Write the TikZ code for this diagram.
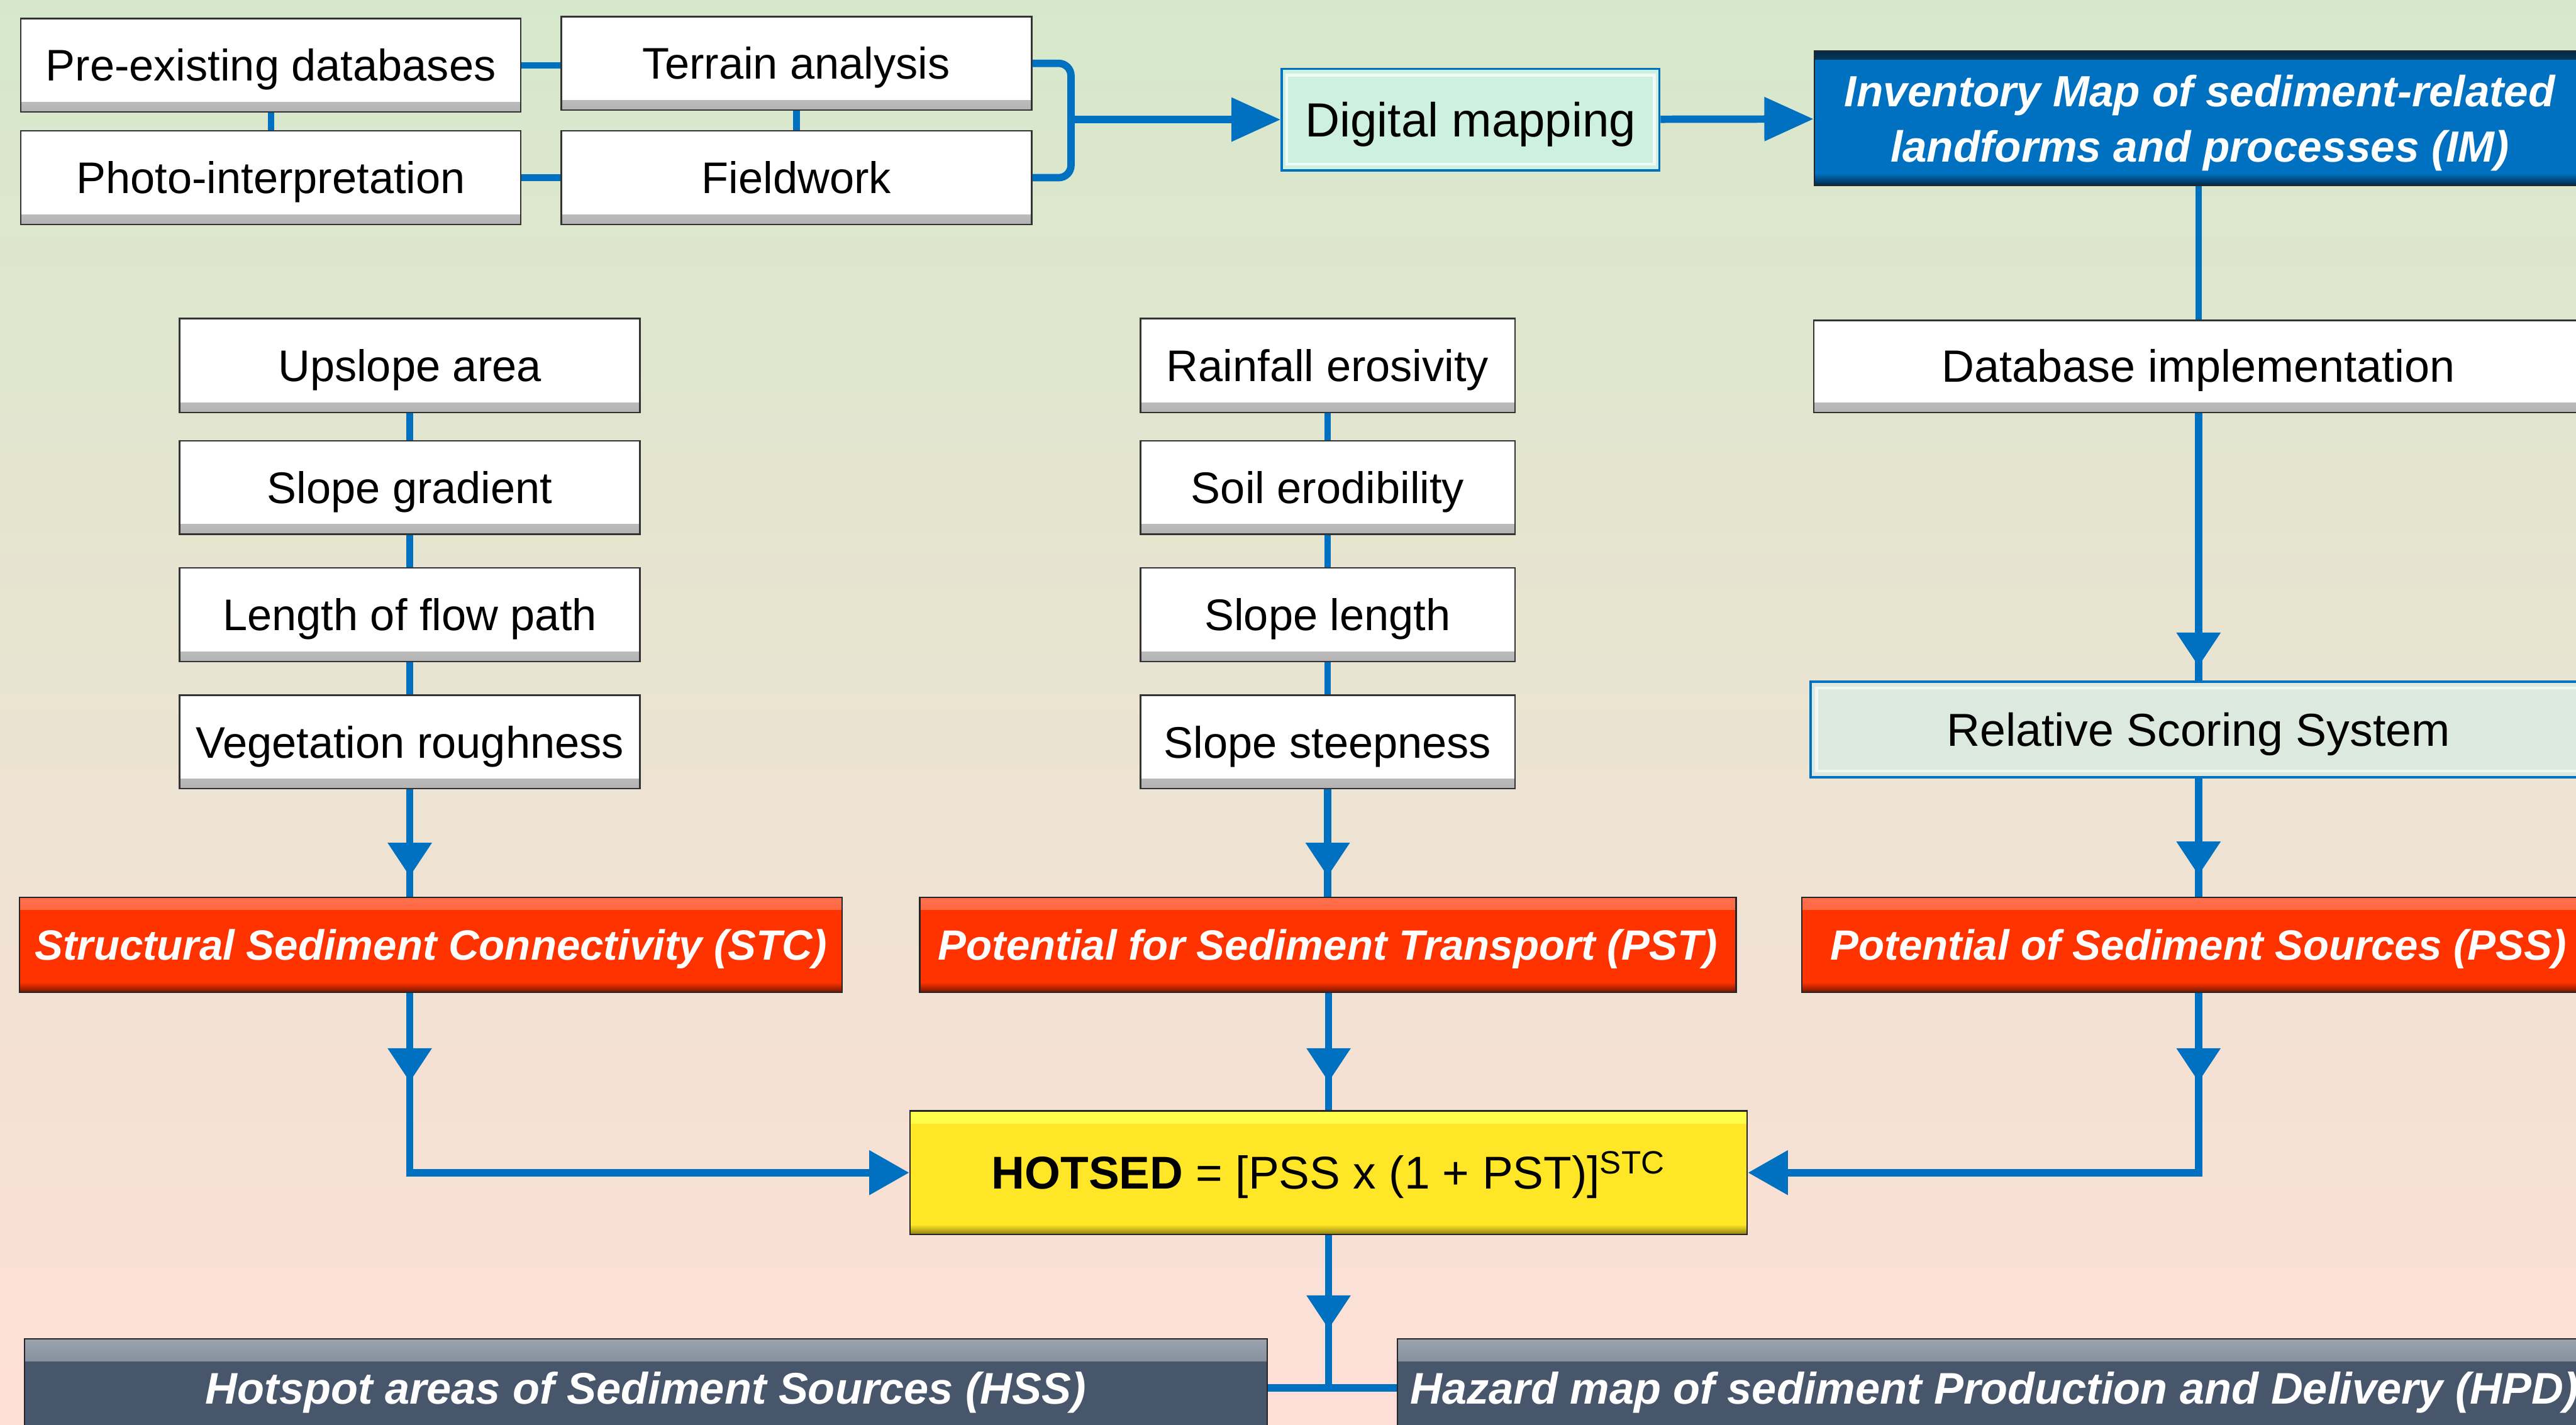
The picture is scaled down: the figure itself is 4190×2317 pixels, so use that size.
\documentclass[tikz,border=0pt]{standalone}
\usepackage{fontspec}
\setmainfont{Liberation Sans}
\usetikzlibrary{arrows.meta,calc}
\definecolor{cblue}{HTML}{0070C0}
\definecolor{cred}{HTML}{FF3300}
\definecolor{cyel}{HTML}{FFE626}
\definecolor{cslate}{HTML}{47566B}
\definecolor{cmint}{HTML}{CEF0E0}
\definecolor{cpale}{HTML}{DCE9DE}
\definecolor{bgtop}{HTML}{D6E8CB}
\definecolor{bgmid}{HTML}{ECD8C2}
\definecolor{bgbot}{HTML}{FEDFD7}
\tikzset{
  wbox/.style={draw=black!80, line width=0.6pt, fill=white, inner sep=0pt,
    font=\fontsize{18}{21.6}\selectfont, text height=12.9pt, text depth=0pt,
    path picture={\shade[top color=white, bottom color=black!30]
      ([yshift=4pt]path picture bounding box.south west) rectangle (path picture bounding box.south east);}},
  redbox/.style={draw=black!85, line width=0.6pt, fill=cred, text=white, inner sep=0pt,
    font=\fontsize{17.2}{20.6}\selectfont\bfseries\itshape, text height=12.3pt, text depth=0pt,
    path picture={\shade[top color=cred!70!white, bottom color=cred]
      (path picture bounding box.north west) rectangle ([yshift=-5pt]path picture bounding box.north east);
      \shade[top color=cred, bottom color=cred!45!black]
      ([yshift=4pt]path picture bounding box.south west) rectangle (path picture bounding box.south east);}},
  imbox/.style={draw=black!85, line width=0.6pt, fill=cblue, text=white, inner sep=0pt, align=center,
    font=\fontsize{17.75}{22.5}\selectfont\bfseries\itshape, text height=35.2pt, text depth=0pt,
    path picture={\shade[top color=cblue!40!black, bottom color=cblue!60!white]
      (path picture bounding box.north west) rectangle ([yshift=-3.5pt]path picture bounding box.north east);
      \shade[top color=cblue, bottom color=cblue!35!black]
      ([yshift=5pt]path picture bounding box.south west) rectangle (path picture bounding box.south east);}},
  mintbox/.style={draw=cblue, line width=1pt, fill=cmint, inner sep=0pt,
    font=\fontsize{19.5}{23}\selectfont, text height=14pt, text depth=0pt,
    path picture={\draw[white!70!cmint, line width=1.2pt]
      ([xshift=2pt,yshift=-2.5pt]path picture bounding box.north west) rectangle ([xshift=-2pt,yshift=2.5pt]path picture bounding box.south east);}},
  palebox/.style={draw=cblue, line width=1pt, fill=cpale, inner sep=0pt,
    font=\fontsize{18.8}{22.5}\selectfont, text height=13.5pt, text depth=0pt,
    path picture={\draw[white!60!cpale, line width=1.2pt]
      ([xshift=2.5pt,yshift=-2.5pt]path picture bounding box.north west) rectangle ([xshift=-2.5pt,yshift=2.5pt]path picture bounding box.south east);}},
  hotbox/.style={draw=black!85, line width=0.6pt, fill=cyel, inner sep=0pt,
    font=\fontsize{18.7}{22.4}\selectfont, text height=13.4pt, text depth=0pt,
    path picture={\shade[top color=yellow!70!white, bottom color=cyel]
      (path picture bounding box.north west) rectangle ([yshift=-5pt]path picture bounding box.north east);
      \shade[top color=cyel, bottom color=cyel!55!black]
      ([yshift=4pt]path picture bounding box.south west) rectangle (path picture bounding box.south east);}},
  darkbox/.style={draw=black!85, line width=0.6pt, fill=cslate, text=white, inner sep=0pt,
    font=\fontsize{18}{21.6}\selectfont\bfseries\itshape, text height=12.9pt, text depth=0pt,
    path picture={\shade[top color=cslate!55!white, bottom color=cslate]
      (path picture bounding box.north west) rectangle ([yshift=-9pt]path picture bounding box.north east);}},
  conn/.style={draw=cblue, line width=3pt},
  thinconn/.style={draw=cblue, line width=2.6pt},
  vhead/.style={draw=cblue, line width=3pt, -{Triangle[length=13.75pt,width=17.25pt]}},
  hhead/.style={-{Triangle[length=20pt,width=17.25pt]}},
  ihead/.style={-{Triangle[length=16.25pt,width=17.5pt]}},
}
\begin{document}
\begin{tikzpicture}[x=0.25pt,y=-0.25pt]
\clip (0,0) rectangle (4190,2317);
\shade[top color=bgtop, middle color=bgmid, bottom color=bgbot] (0,0) rectangle (4190,2317);

% top-left cluster
\node[wbox, minimum width=203.25pt, minimum height=38pt] (pre) at (440.5,106) {Pre-existing databases};
\node[wbox, minimum width=191.25pt, minimum height=38pt] (terr) at (1295.5,103) {Terrain analysis};
\node[wbox, minimum width=203.25pt, minimum height=38pt] (photo) at (440.5,289) {Photo-interpretation};
\node[wbox, minimum width=191.25pt, minimum height=38pt] (field) at (1295.5,289) {Fieldwork};
\node[mintbox, minimum width=153.5pt, minimum height=41.25pt] (digi) at (2392,194.5) {Digital mapping};
\node[imbox, minimum width=313.5pt, minimum height=54.75pt] (im) at (3578,192.5) {Inventory Map of sediment-related\\landforms and processes (IM)};

% right column
\node[wbox, font=\fontsize{18.4}{22}\selectfont, minimum width=313pt, minimum height=37.5pt] (db) at (3576,596) {Database implementation};
\node[palebox, minimum width=315.5pt, minimum height=38.75pt] (rss) at (3576,1186.5) {Relative Scoring System};

% left column
\node[wbox, minimum width=187.25pt, minimum height=38.25pt] (up) at (666.5,594.5) {Upslope area};
\node[wbox, minimum width=187.25pt, minimum height=38pt] (sg) at (666.5,793) {Slope gradient};
\node[wbox, minimum width=187.25pt, minimum height=38pt] (lfp) at (666.5,1000) {Length of flow path};
\node[wbox, minimum width=187.25pt, minimum height=38pt] (veg) at (666.5,1207) {Vegetation roughness};

% middle column
\node[wbox, minimum width=152.25pt, minimum height=38.25pt] (rain) at (2159.5,594.5) {Rainfall erosivity};
\node[wbox, minimum width=152.25pt, minimum height=38pt] (soil) at (2159.5,793) {Soil erodibility};
\node[wbox, minimum width=152.25pt, minimum height=38pt] (slen) at (2159.5,1000) {Slope length};
\node[wbox, minimum width=152.25pt, minimum height=38pt] (steep) at (2159.5,1207) {Slope steepness};

% red boxes
\node[redbox, minimum width=334.5pt, minimum height=38.5pt] (stc) at (701,1537) {Structural Sediment Connectivity (STC)};
\node[redbox, minimum width=332pt, minimum height=38.5pt] (pst) at (2160,1537) {Potential for Sediment Transport (PST)};
\node[redbox, minimum width=322.5pt, minimum height=38.5pt] (pss) at (3576,1537) {Potential of Sediment Sources (PSS)};

% HOTSED
\node[hotbox, minimum width=340.5pt, minimum height=50.25pt] (hot) at (2161,1907.5) {{\bfseries HOTSED} = [PSS x (1 + PST)]\textsuperscript{STC}};

% bottom
\node[darkbox, minimum width=505.25pt, minimum height=39.75pt] (hss) at (1050.5,2257.5) {Hotspot areas of Sediment Sources (HSS)};
\node[darkbox, minimum width=485.5pt, minimum height=39.75pt] (hpd) at (3244,2257.5) {Hazard map of sediment Production and Delivery (HPD)};

% helper coordinates
\coordinate (midy) at (0,1760);
\coordinate (midy2) at (0,2162);
\coordinate (br) at (1742,194.5);

% top-left connectors
\draw[thinconn] (pre.east) -- (pre.east -| terr.west);
\draw[thinconn] (photo) -- (field);
\draw[thinconn] (pre) -- (photo);
\draw[thinconn] (terr) -- (field);
\draw[conn, rounded corners=5pt] (terr.east) -- (terr.east -| br) -- (field.east -| br) -- (field.east);
\draw[conn, hhead] (br) -- (digi.west);
\draw[conn, hhead] (digi) -- (im);

% right column
\draw[thinconn] (im.south -| db.north) -- (db.north);
\draw[conn] (db) -- (rss);
\draw[vhead] (db.south) -- ([yshift=5.75pt]rss.north);
\draw[conn] (rss) -- (pss);
\draw[vhead] (rss.south) -- ([yshift=8.75pt]rss.south |- pss.north);

% left column
\draw[thinconn] (up) -- (sg);
\draw[thinconn] (sg) -- (lfp);
\draw[thinconn] (lfp) -- (veg);
\draw[conn] (veg.south) -- (veg.south |- stc.north);
\draw[vhead] (veg.south) -- ([yshift=8.25pt]veg.south |- stc.north);

% middle column
\draw[thinconn] (rain) -- (soil);
\draw[thinconn] (soil) -- (slen);
\draw[thinconn] (slen) -- (steep);
\draw[conn] (steep.south) -- (steep.south |- pst.north);
\draw[vhead] (steep.south) -- ([yshift=8.25pt]steep.south |- pst.north);

% into HOTSED
\draw[conn, ihead] (veg.south |- stc.south) |- (hot.west);
\draw[vhead] (veg.south |- stc.south) -- (veg.south |- midy);
\draw[conn] (pst.south -| hot.north) -- (hot.north);
\draw[vhead] (pst.south -| hot.north) -- (hot.north |- midy);
\draw[conn, ihead] (pss.south) |- (hot.east);
\draw[vhead] (pss.south) -- (pss.south |- midy);

% out of HOTSED
\draw[conn] (hot.south) -- (hot.south |- hss.east);
\draw[vhead] (hot.south) -- (hot.south |- midy2);
\draw[conn, line width=3.25pt] (hss.east) -- (hpd.west);
\end{tikzpicture}
\end{document}
